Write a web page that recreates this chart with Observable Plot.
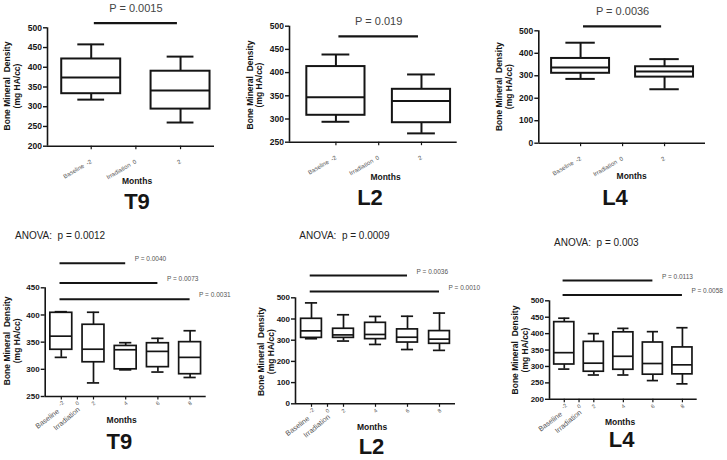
<!DOCTYPE html>
<html>
<head>
<meta charset="utf-8">
<script src="https://cdn.jsdelivr.net/npm/d3@7"></script>
<script src="https://cdn.jsdelivr.net/npm/@observablehq/plot@0.6"></script>
<style>
  html, body { margin: 0; padding: 0; background: #fff; }
  #fig { position: relative; width: 727px; height: 460px; overflow: hidden; background: #fff; }
  .panel { position: absolute; }
</style>
</head>
<body>
<div id="fig"></div>
<script>
// ---------------- DATA ----------------
// Box summaries: month, low whisker, Q1, median, Q3, high whisker (mg HA/cc)
const t9Short = [
  {month: -2, low: 318, q1: 333, median: 374, q3: 421, high: 458},
  {month: 2,  low: 260, q1: 294, median: 341, q3: 390, high: 427}
];
const l2Short = [
  {month: -2, low: 294, q1: 308, median: 347, q3: 413, high: 439},
  {month: 2,  low: 269, q1: 292, median: 339, q3: 364, high: 396}
];
const l4Short = [
  {month: -2, low: 286, q1: 311, median: 337, q3: 377, high: 447},
  {month: 2,  low: 240, q1: 294, median: 319, q3: 340, high: 374}
];
const t9Long = [
  {month: -2, low: 322, q1: 336, median: 361, q3: 404, high: 406},
  {month: 2,  low: 275, q1: 313, median: 337, q3: 382, high: 405},
  {month: 4,  low: 299, q1: 300, median: 336, q3: 343, high: 349},
  {month: 6,  low: 295, q1: 304, median: 333, q3: 348, high: 357},
  {month: 8,  low: 285, q1: 291, median: 322, q3: 350, high: 371}
];
const l2Long = [
  {month: -2, low: 307, q1: 311, median: 344, q3: 401, high: 476},
  {month: 2,  low: 296, q1: 311, median: 325, q3: 354, high: 420},
  {month: 4,  low: 280, q1: 305, median: 327, q3: 382, high: 412},
  {month: 6,  low: 256, q1: 289, median: 314, q3: 351, high: 413},
  {month: 8,  low: 252, q1: 283, median: 305, q3: 343, high: 428}
];
const l4Long = [
  {month: -2, low: 292, q1: 306, median: 342, q3: 435, high: 447},
  {month: 2,  low: 274, q1: 284, median: 310, q3: 375, high: 400},
  {month: 4,  low: 274, q1: 290, median: 331, q3: 404, high: 416},
  {month: 6,  low: 257, q1: 275, median: 309, q3: 373, high: 406},
  {month: 8,  low: 247, q1: 276, median: 305, q3: 358, high: 418}
];

// Pairwise comparisons: from month, to month, bar level (mg HA/cc), label
const t9ShortP = [{from: -2, to: 2, level: 512, label: "P = 0.0015"}];
const l2ShortP = [{from: -2, to: 2, level: 478, label: "P = 0.019"}];
const l4ShortP = [{from: -2, to: 2, level: 520, label: "P = 0.0036"}];
const t9LongP = [
  {from: -2, to: 4, level: 495, label: "P = 0.0040"},
  {from: -2, to: 6, level: 459, label: "P = 0.0073"},
  {from: -2, to: 8, level: 429, label: "P = 0.0031"}
];
const l2LongP = [
  {from: -2, to: 6, level: 605, label: "P = 0.0036"},
  {from: -2, to: 8, level: 530, label: "P = 0.0010"}
];
const l4LongP = [
  {from: -2, to: 6, level: 562, label: "P = 0.0113"},
  {from: -2, to: 8, level: 518, label: "P = 0.0058"}
];
const anovaLabels = ["ANOVA:  p = 0.0012", "ANOVA:  p = 0.0009", "ANOVA:  p = 0.003"];
const panelTitles = ["T9", "L2", "L4", "T9", "L2", "L4"];

// Tick labels
const shortTicks = [-2, 0, 2];
const shortTickLabels = ["Baseline  -2", "Irradiation  0", "2"];
const longTicks = [-2, 0, 2, 4, 6, 8];
const longTickLabels = ["-2", "0", "2", "4", "6", "8"];
const longTickNames = ["Baseline", "Irradiation"];

const yTicksT9s = [200, 250, 300, 350, 400, 450, 500];
const yTicksL2s = [250, 300, 350, 400, 450, 500];
const yTicksL4s = [0, 100, 200, 300, 400, 500];
const yTicksT9l = [250, 300, 350, 400, 450];
const yTicksL2l = [0, 100, 200, 300, 400, 500];
const yTicksL4l = [200, 250, 300, 350, 400, 450, 500];

// ---------------- LAYOUT ----------------
const FONT = "'Liberation Sans', Arial, Helvetica, sans-serif";
const INK = "#151515";
// broken month axis of the long-term panels: -2, 0, 2 are compressed
const slot = m => (m <= 2 ? (m + 2) / 4 : m / 2);
const ident = m => m;

const panels = [
  {left: 0, top: 0, w: 240, h: 230, ml: 47, mr: 26, mt: 27.3, mb: 84.3,
   xd: [-3.957, 3.52], yd: [200, 500], yt: yTicksT9s, data: t9Short, p: t9ShortP, kind: "short",
   bw: 2.64, cw: 1.2, ylx: [8, 17.5], yly: 86, months: [137, 182], title: [137, 203]},
  {left: 240, top: 0, w: 240, h: 230, ml: 49, mr: 23.3, mt: 25.7, mb: 88.3,
   xd: [-4.17, 3.67], yd: [250, 500], yt: yTicksL2s, data: l2Short, p: l2ShortP, kind: "short",
   bw: 2.72, cw: 1.3, ylx: [10.7, 20], yly: 85, months: [145.5, 178], title: [130, 199.5]},
  {left: 480, top: 0, w: 247, h: 230, ml: 58.3, mr: 22, mt: 30.3, mb: 87.3,
   xd: [-3.99, 3.95], yd: [0, 500], yt: yTicksL4s, data: l4Short, p: l4ShortP, kind: "short",
   bw: 2.76, cw: 1.4, ylx: [20, 29.3], yly: 86.7, months: [151.7, 176.7], title: [135, 199.5]},
  {left: 0, top: 230, w: 240, h: 230, ml: 44.7, mr: 34.3, mt: 57.3, mb: 64,
   xd: [-0.5, 4.5], yd: [250, 450], yt: yTicksT9l, data: t9Long, p: t9LongP, kind: "long",
   bw: 0.68, cw: 0.38, ylx: [7.3, 17.3], yly: 110.8, months: [121.7, 190.7], title: [119.3, 213.3],
   anova: [15, 6]},
  {left: 240, top: 230, w: 240, h: 230, ml: 55, mr: 25, mt: 67.3, mb: 56.7,
   xd: [-0.5, 4.5], yd: [0, 500], yt: yTicksL2l, data: l2Long, p: l2LongP, kind: "long",
   bw: 0.65, cw: 0.38, ylx: [21.7, 31.7], yly: 121.7, months: [132, 197.3], title: [131.5, 218.3],
   anova: [59.3, 6]},
  {left: 480, top: 230, w: 247, h: 230, ml: 69, mr: 30.3, mt: 70.3, mb: 61.2,
   xd: [-0.5, 4.5], yd: [200, 500], yt: yTicksL4l, data: l4Long, p: l4LongP, kind: "long",
   bw: 0.68, cw: 0.38, ylx: [36, 46], yly: 120, months: [140, 192.3], title: [141.7, 210.7],
   anova: [74, 13.3]}
];

const fig = document.getElementById("fig");

panels.forEach((s, i) => {
  const isShort = s.kind === "short";
  const xf = isShort ? ident : slot;
  const ymin = s.yd[0];
  const lw = isShort ? 2 : 1.7;
  const marks = [];

  // axis lines
  marks.push(Plot.ruleX([s.xd[0]], {stroke: INK, strokeWidth: 1.6}));
  marks.push(Plot.ruleY([ymin], {stroke: INK, strokeWidth: 1.6}));
  marks.push(Plot.axisY({ticks: s.yt, tickSize: 4, tickPadding: 1.5, label: null,
    fontSize: isShort ? 8.5 : 8, fontWeight: "bold", fill: INK, strokeWidth: 1.4}));

  const tickVals = isShort ? shortTicks : longTicks;
  marks.push(Plot.axisX({ticks: tickVals.map(xf), tickSize: 3.5, tickFormat: () => "",
    label: null, strokeWidth: 1.2}));

  if (isShort) {
    marks.push(Plot.text(shortTicks, {x: d => d, y: () => ymin, text: (d, j) => shortTickLabels[j],
      textAnchor: "end", lineAnchor: "middle", rotate: -30, dy: 15, fontSize: 6, fill: "#555"}));
  } else {
    marks.push(Plot.text(longTicks, {x: slot, y: () => ymin, text: (d, j) => longTickLabels[j],
      textAnchor: "middle", lineAnchor: "middle", rotate: -40, dy: 7, fontSize: 5.5, fill: "#555"}));
    marks.push(Plot.text([longTicks[0]], {x: slot, y: () => ymin, text: () => longTickNames[0],
      textAnchor: "end", lineAnchor: "middle", rotate: -37, dx: -3, dy: 14, fontSize: 7.2, fill: "#555"}));
    marks.push(Plot.text([longTicks[1]], {x: slot, y: () => ymin, text: () => longTickNames[1],
      textAnchor: "end", lineAnchor: "middle", rotate: -40, dx: 1.5, dy: 12, fontSize: 7.2, fill: "#555"}));
  }

  // boxes
  marks.push(Plot.ruleX(s.data, {x: d => xf(d.month), y1: "low", y2: "high", stroke: INK, strokeWidth: lw}));
  marks.push(Plot.ruleY(s.data, {y: "high", x1: d => xf(d.month) - s.cw / 2, x2: d => xf(d.month) + s.cw / 2, stroke: INK, strokeWidth: lw}));
  marks.push(Plot.ruleY(s.data, {y: "low", x1: d => xf(d.month) - s.cw / 2, x2: d => xf(d.month) + s.cw / 2, stroke: INK, strokeWidth: lw}));
  marks.push(Plot.rect(s.data, {x1: d => xf(d.month) - s.bw / 2, x2: d => xf(d.month) + s.bw / 2,
    y1: "q1", y2: "q3", fill: "white", stroke: INK, strokeWidth: lw}));
  marks.push(Plot.ruleY(s.data, {y: "median", x1: d => xf(d.month) - s.bw / 2, x2: d => xf(d.month) + s.bw / 2, stroke: INK, strokeWidth: lw}));

  // significance bars
  if (isShort) {
    const inset = 0.14;
    marks.push(Plot.ruleY(s.p, {y: "level", x1: d => d.from + inset, x2: d => d.to - inset, stroke: INK, strokeWidth: 2.2}));
    marks.push(Plot.text(s.p, {x: d => (d.from + d.to) / 2, y: "level", text: "label", dy: -15,
      textAnchor: "middle", lineAnchor: "middle", fontSize: 11, fill: "#444"}));
  } else {
    marks.push(Plot.ruleY(s.p, {y: "level", x1: d => slot(d.from) - 0.04, x2: d => slot(d.to), stroke: INK, strokeWidth: 2}));
    marks.push(Plot.text(s.p, {x: d => slot(d.to), y: "level", text: "label", dx: 9, dy: -4,
      textAnchor: "start", lineAnchor: "middle", fontSize: 6.5, fill: "#555"}));
  }

  const svg = Plot.plot({
    width: s.w, height: s.h,
    marginLeft: s.ml, marginRight: s.mr, marginTop: s.mt, marginBottom: s.mb,
    x: {domain: s.xd},
    y: {domain: s.yd},
    style: {fontFamily: FONT, color: INK, background: "transparent", overflow: "visible"},
    marks
  });

  // bold y tick labels
  d3.select(svg).selectAll('[aria-label="y-axis tick label"]')
    .attr("font-weight", "bold").style("font-weight", "bold").attr("fill", INK);

  // titles / labels as real text
  const g = d3.select(svg).append("g").attr("font-family", FONT).attr("fill", INK);
  const yl = g.append("g").attr("font-size", 8.5).attr("font-weight", "bold").attr("text-anchor", "middle");
  yl.append("text").attr("transform", `translate(${s.ylx[0]},${s.yly}) rotate(-90)`)
    .attr("dominant-baseline", "middle").text("Bone Mineral  Density").style("white-space", "pre");
  yl.append("text").attr("transform", `translate(${s.ylx[1]},${s.yly}) rotate(-90)`)
    .attr("dominant-baseline", "middle").text("(mg HA/cc)");
  g.append("text").attr("x", s.months[0]).attr("y", s.months[1]).attr("text-anchor", "middle")
    .attr("dominant-baseline", "middle").attr("font-size", 8.5).attr("font-weight", "bold").text("Months");
  g.append("text").attr("x", s.title[0]).attr("y", s.title[1]).attr("text-anchor", "middle")
    .attr("dominant-baseline", "middle").attr("font-size", 22).attr("font-weight", "bold").text(panelTitles[i]);
  if (s.anova) {
    g.append("text").attr("x", s.anova[0]).attr("y", s.anova[1]).attr("text-anchor", "start")
      .attr("dominant-baseline", "middle").attr("font-size", 10).attr("fill", "#222")
      .style("white-space", "pre").text(anovaLabels[i - 3]);
  }

  const div = document.createElement("div");
  div.className = "panel";
  div.style.left = s.left + "px";
  div.style.top = s.top + "px";
  div.appendChild(svg);
  fig.appendChild(div);
});
</script>
</body>
</html>
